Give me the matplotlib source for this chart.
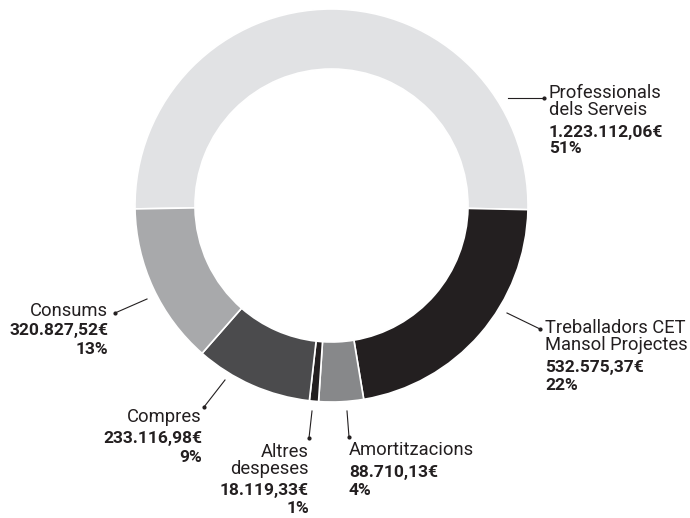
import matplotlib.pyplot as plt

# Data
names = ['Professionals\ndels Serveis', 'Treballadors CET\nMansol Projectes',
         'Amortitzacions', 'Altres\ndespeses', 'Compres', 'Consums']
amounts = [1223112.06, 532575.37, 88710.13, 18119.33, 233116.98, 320827.52]
percents = [51, 22, 4, 1, 9, 13]
colors = ['#e1e2e4', '#231f20', '#87888a', '#231f20', '#4b4b4d', '#a8a9ab']

W, H = 690, 518
txt_color = '#231f20'
plt.rcParams['font.family'] = ['Roboto', 'DejaVu Sans']


def fmt(v):
    s = '{:,.2f}'.format(v)
    return s.replace(',', 'X').replace('.', ',').replace('X', '.') + '€'


fig = plt.figure(figsize=(W / 100, H / 100), dpi=100, facecolor='white')
ax = fig.add_axes([0, 0, 1, 1])

ax.pie(amounts, colors=colors, startangle=181.0, counterclock=False,
       center=(331.5, H - 205.5), radius=196.5,
       wedgeprops=dict(width=60, edgecolor='white', linewidth=1.2))
ax.set_xlim(0, W)
ax.set_ylim(0, H)
ax.set_aspect('auto')
ax.axis('off')

# label layout: leader line (x0,y0,x1,y1), text x, alignment,
# baselines of name (last line), value, percent
layout = [
    ((508, 98, 544, 98), 549, 'left', [115, 137, 153]),
    ((507, 313, 540, 329), 545, 'left', [350, 372, 390]),
    ((347, 411, 349, 437), 349, 'left', [455, 477, 495]),
    ((312, 411, 309, 438), 309, 'right', [474, 495, 513]),
    ((225, 380, 204, 407), 202, 'right', [422, 443, 462]),
    ((147, 299, 115, 313), 108, 'right', [316, 335, 354]),
]

for i, (line, tx, ha, ys) in enumerate(layout):
    x0, y0, x1, y1 = line
    ax.plot([x0, x1], [H - y0, H - y1], color=txt_color, lw=0.8)
    ax.plot([x1], [H - y1], 'o', color=txt_color, ms=2)
    ax.text(tx, H - ys[0], names[i], ha=ha, va='baseline', fontsize=13.2,
            color=txt_color, linespacing=0.92, multialignment=ha)
    ax.text(tx, H - ys[1], fmt(amounts[i]), ha=ha, va='baseline',
            fontsize=12.5, fontweight='bold', color=txt_color)
    ax.text(tx, H - ys[2], '{}%'.format(percents[i]), ha=ha, va='baseline',
            fontsize=12.5, fontweight='bold', color=txt_color)

plt.savefig('out.png', dpi=100, facecolor='white')
